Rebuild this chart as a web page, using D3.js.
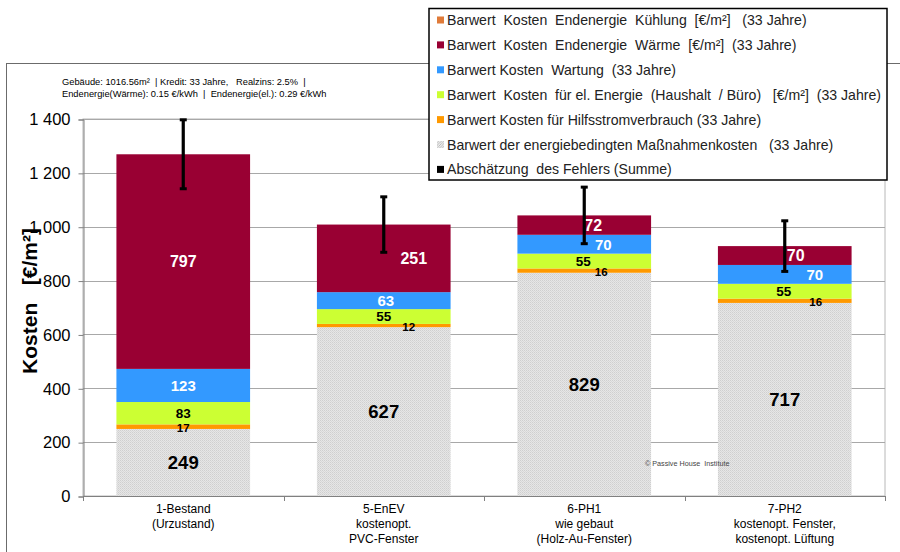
<!DOCTYPE html>
<html>
<head>
<meta charset="utf-8">
<script src="https://cdn.jsdelivr.net/npm/d3@7"></script>
<style>
  html, body { margin: 0; padding: 0; background: #fff; }
  svg { display: block; font-family: "Liberation Sans", Arial, sans-serif; }
</style>
</head>
<body>
<svg id="chart" width="900" height="552"></svg>
<script>
// Categories (variants), one entry per bar; each label is split over lines
const categories = ["1-Bestand", "5-EnEV", "6-PH1", "7-PH2"];
const categoryLines = [
  ["1-Bestand", "(Urzustand)"],
  ["5-EnEV", "kostenopt.", "PVC-Fenster"],
  ["6-PH1", "wie gebaut", "(Holz-Au-Fenster)"],
  ["7-PH2", "kostenopt. Fenster,", "kostenopt. Lüftung"]
];

// Present values in €/m² over 33 years, stacked bottom to top
const massnahmen   = [249, 627, 829, 717];
const hilfsstrom   = [17, 12, 16, 16];
const elEnergie    = [83, 55, 55, 55];
const wartung      = [123, 63, 70, 70];
const waerme       = [797, 251, 72, 70];
const kuehlung     = [0, 0, 0, 0];

// Estimated error of the sum (±)
const fehler = [128, 103, 105, 94];

const yTicks = [0, 200, 400, 600, 800, 1000, 1200, 1400];

const legendLabels = [
  "Barwert  Kosten  Endenergie  Kühlung  [€/m²]   (33 Jahre)",
  "Barwert  Kosten  Endenergie  Wärme  [€/m²]  (33 Jahre)",
  "Barwert Kosten  Wartung  (33 Jahre)",
  "Barwert  Kosten  für el. Energie  (Haushalt  / Büro)   [€/m²]  (33 Jahre)",
  "Barwert Kosten für Hilfsstromverbrauch (33 Jahre)",
  "Barwert der energiebedingten Maßnahmenkosten   (33 Jahre)",
  "Abschätzung  des Fehlers (Summe)"
];

// ---- layout & styling ----
const svg = d3.select("#chart");
const font = "'Liberation Sans', Arial, sans-serif";
const plot = { left: 83, right: 885, top: 119, bottom: 496 };

const x = d3.scaleBand().domain(categories)
  .range([plot.left, plot.right]).paddingInner(1 / 3).paddingOuter(1 / 6);
const y = d3.scaleLinear().domain([0, 1400]).range([plot.bottom, plot.top]);

// Fine light-grey dotted fill for the investment-cost segment
const defs = svg.append("defs");
const hatch = defs.append("pattern").attr("id", "hatch")
  .attr("patternUnits", "userSpaceOnUse").attr("width", 2).attr("height", 2);
hatch.append("rect").attr("width", 2).attr("height", 2).attr("fill", "#e6e6e6");
hatch.append("rect").attr("width", 1).attr("height", 1).attr("fill", "#cfcfcf");
hatch.append("rect").attr("x", 1).attr("y", 1).attr("width", 1).attr("height", 1).attr("fill", "#d8d8d8");

const legHatch = defs.append("pattern").attr("id", "legHatch")
  .attr("patternUnits", "userSpaceOnUse").attr("width", 2.5).attr("height", 2.5);
legHatch.append("rect").attr("width", 2.5).attr("height", 2.5).attr("fill", "#eeeeee");
legHatch.append("path").attr("d", "M0,2.5 L2.5,0").attr("stroke", "#b0b0b0").attr("stroke-width", 0.8);

// Series definitions (stack order bottom → top)
const series = [
  { key: "massnahmen", values: massnahmen, fill: "url(#hatch)", text: "#000", size: 18.5, dx: [0, 0, 0, 0] },
  { key: "hilfsstrom", values: hilfsstrom, fill: "#ff9900", text: "#000", size: 11.5, dx: [0, 25, 17, 31], dy: 1.5 },
  { key: "elEnergie", values: elEnergie, fill: "#ccff33", text: "#000", size: 13.5, dx: [0, 0, -1, -1] },
  { key: "wartung", values: wartung, fill: "#3399ff", text: "#fff", size: 15, dx: [0, 2, 19, 30] },
  { key: "waerme", values: waerme, fill: "#990033", text: "#fff", size: 16, dx: [0, 30, 9, 11] },
  { key: "kuehlung", values: kuehlung, fill: "#e07b39", text: "#fff", size: 14, dx: [0, 0, 0, 0] }
];

// Outer chart frame
svg.append("rect").attr("x", 6.5).attr("y", 63.5).attr("width", 920).attr("height", 520)
  .attr("fill", "#fff").attr("stroke", "#6b6b6b").attr("stroke-width", 1);

// Plot area frame
svg.append("rect").attr("x", plot.left).attr("y", plot.top)
  .attr("width", plot.right - plot.left).attr("height", plot.bottom - plot.top)
  .attr("fill", "none").attr("stroke", "#b8b8b8").attr("stroke-width", 1);

// Gridlines
svg.append("g").selectAll("line").data(yTicks.filter(d => d > 0)).join("line")
  .attr("x1", plot.left).attr("x2", plot.right)
  .attr("y1", d => Math.round(y(d)) + 0.5).attr("y2", d => Math.round(y(d)) + 0.5)
  .attr("stroke", "#a8a8a8").attr("stroke-width", 1);

// Y axis
const yAxis = d3.axisLeft(y).tickValues(yTicks).tickSize(5).tickPadding(8)
  .tickFormat(d => d3.format(",")(d).replace(/,/g, " "));
const yg = svg.append("g").attr("transform", `translate(${plot.left + 0.5},0.5)`).call(yAxis);
yg.select(".domain").attr("stroke", "#808080");
yg.selectAll(".tick line").attr("stroke", "#808080");
yg.selectAll(".tick text").attr("font-family", font).attr("font-size", 16.5).attr("fill", "#000")
  .style("white-space", "pre");

// Y axis title
svg.append("text")
  .attr("transform", "translate(37,301) rotate(-90)")
  .attr("text-anchor", "middle").attr("font-family", font)
  .attr("font-size", 21).attr("font-weight", "bold").attr("fill", "#000")
  .style("white-space", "pre")
  .text("Kosten   [€/m²]");

// Stacked bars
const stackRows = categories.map((c, i) => {
  const row = { cat: c };
  series.forEach(s => row[s.key] = s.values[i]);
  return row;
});
const stacked = d3.stack().keys(series.map(s => s.key))(stackRows);

const barG = svg.append("g");
stacked.forEach((layer, li) => {
  const s = series[li];
  barG.append("g").selectAll("rect").data(layer).join("rect")
    .attr("x", d => x(d.data.cat))
    .attr("width", x.bandwidth())
    .attr("y", d => y(d[1]))
    .attr("height", d => y(d[0]) - y(d[1]))
    .attr("fill", s.fill);
});

// X axis
svg.append("line").attr("x1", plot.left).attr("x2", plot.right)
  .attr("y1", plot.bottom + 0.5).attr("y2", plot.bottom + 0.5).attr("stroke", "#808080");
const boundaries = categories.map((c, i) => x(c) - x.step() * x.paddingInner() / 2)
  .concat([plot.right]);
svg.append("g").selectAll("line").data(boundaries).join("line")
  .attr("x1", d => Math.round(d) + 0.5).attr("x2", d => Math.round(d) + 0.5)
  .attr("y1", plot.bottom).attr("y2", plot.bottom + 5).attr("stroke", "#808080");

const xl = svg.append("g").selectAll("text").data(categories).join("text")
  .attr("text-anchor", "middle").attr("font-family", font).attr("font-size", 12).attr("fill", "#000")
  .attr("x", d => x(d) + x.bandwidth() / 2).attr("y", 513);
xl.each(function (d, i) {
  d3.select(this).selectAll("tspan").data(categoryLines[i]).join("tspan")
    .attr("x", x(d) + x.bandwidth() / 2)
    .attr("dy", (t, j) => j === 0 ? 0 : 15)
    .text(t => t);
});

// Value labels
stacked.forEach((layer, li) => {
  const s = series[li];
  barG.append("g").selectAll("text").data(layer.filter(d => d[1] - d[0] > 0)).join("text")
    .attr("text-anchor", "middle").attr("dominant-baseline", "central")
    .attr("font-family", font).attr("font-weight", "bold")
    .attr("font-size", s.size).attr("fill", s.text)
    .attr("x", d => x(d.data.cat) + x.bandwidth() / 2 + s.dx[categories.indexOf(d.data.cat)])
    .attr("y", d => y((d[0] + d[1]) / 2) + (s.dy || 0))
    .text(d => d[1] - d[0]);
});

// Error bars on the sums
const totals = stackRows.map(r => series.reduce((a, s) => a + r[s.key], 0));
const errG = svg.append("g");
categories.forEach((c, i) => {
  const cx = x(c) + x.bandwidth() / 2;
  const top = y(totals[i] + fehler[i]);
  const bot = y(totals[i] - fehler[i]);
  errG.append("line").attr("x1", cx).attr("x2", cx).attr("y1", top).attr("y2", bot)
    .attr("stroke", "#000").attr("stroke-width", 3.2);
  [top, bot].forEach(yy => errG.append("rect")
    .attr("x", cx - 3.5).attr("y", yy - 1.5).attr("width", 7).attr("height", 3).attr("fill", "#000"));
});

// Info text
const info = svg.append("text").attr("font-family", font).attr("font-size", 9.3).attr("fill", "#000")
  .style("white-space", "pre");
info.append("tspan").attr("x", 62).attr("y", 85)
  .text("Gebäude: 1016.56m²  | Kredit: 33 Jahre,   Realzins: 2.5%  |");
info.append("tspan").attr("x", 62).attr("y", 97)
  .text("Endenergie(Wärme): 0.15 €/kWh  |  Endenergie(el.): 0.29 €/kWh");

// Copyright note
svg.append("text").attr("x", 645).attr("y", 466).attr("font-family", font)
  .attr("font-size", 7.2).attr("fill", "#444").style("white-space", "pre")
  .text("© Passive House  Institute");

// Legend
const legendFills = ["#e07b39", "#990033", "#3399ff", "#ccff33", "#ff9900", "url(#legHatch)", "#000"];
const lg = svg.append("g");
lg.append("rect").attr("x", 429).attr("y", 8.5).attr("width", 458).attr("height", 171.5)
  .attr("fill", "#fff").attr("stroke", "#000").attr("stroke-width", 1.5);
legendLabels.forEach((t, i) => {
  const cy = 20 + i * 24.9;
  lg.append("rect").attr("x", 437).attr("y", cy - 3.5).attr("width", 7).attr("height", 7)
    .attr("fill", legendFills[i]);
  lg.append("text").attr("x", 447).attr("y", cy).attr("dominant-baseline", "central")
    .attr("font-family", font).attr("font-size", 14.1).attr("fill", "#222")
    .style("white-space", "pre").text(t);
});
</script>
</body>
</html>
